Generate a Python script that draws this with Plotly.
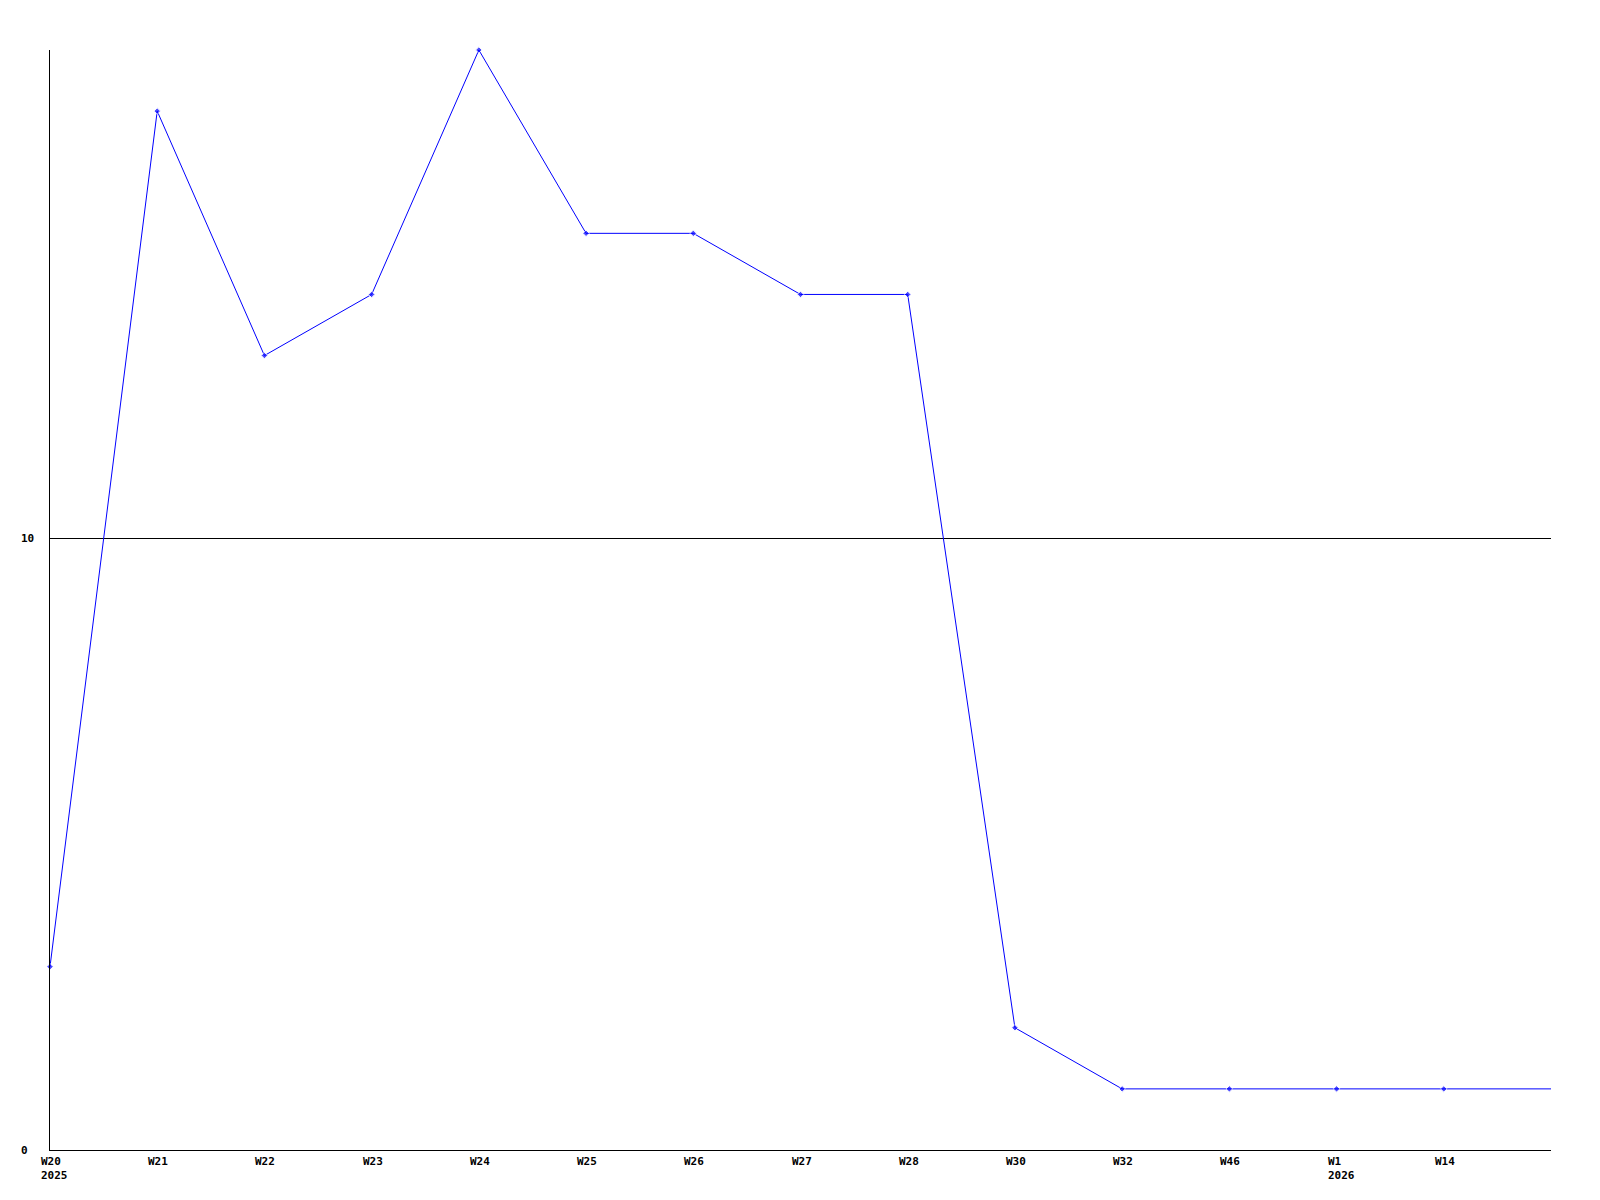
import plotly.graph_objects as go

weeks = ["W20", "W21", "W22", "W23", "W24", "W25", "W26", "W27", "W28", "W30", "W32", "W46", "W1", "W14", ""]
years = ["2025", "", "", "", "", "", "", "", "", "", "", "", "2026", "", ""]
values = [3, 17, 13, 14, 18, 15, 15, 14, 14, 2, 1, 1, 1, 1, 1]
y_ticks = [0, 10]

FONT = dict(family="DejaVu Sans Mono", size=11, color="black")

xs = list(range(len(values)))
sizes = [5] * (len(values) - 1) + [0]

fig = go.Figure()
fig.add_trace(go.Scatter(
    x=xs, y=values, mode="lines+markers",
    line=dict(color="#0000ff", width=1),
    marker=dict(symbol="diamond", size=sizes, color="#0000ff"),
    cliponaxis=False, showlegend=False, hoverinfo="skip",
))

annotations = []
for i, (w, yr) in enumerate(zip(weeks, years)):
    if not w:
        continue
    text = f"<b>{w}</b>" + (f"<br><b>{yr}</b>" if yr else "")
    annotations.append(dict(
        x=i, y=0, xref="x", yref="y", text=text, showarrow=False,
        xanchor="left", yanchor="top", align="left", xshift=-11, yshift=-3,
        font=FONT,
    ))
for t in y_ticks:
    annotations.append(dict(
        x=0, y=t, xref="paper", yref="y", text=f"<b>{t}</b>", showarrow=False,
        xanchor="left", yanchor="middle", align="left", xshift=-31,
        font=FONT,
    ))

fig.update_layout(
    width=1592, height=1192,
    margin=dict(l=42, r=49, t=42, b=50),
    paper_bgcolor="white", plot_bgcolor="white",
    annotations=annotations,
    xaxis=dict(range=[0, 14], showgrid=False, zeroline=False, showticklabels=False,
               ticks="", showline=True, linecolor="black", linewidth=1, fixedrange=True),
    yaxis=dict(range=[0, 18], tickvals=y_ticks, showticklabels=False, ticks="",
               showgrid=True, gridcolor="black", gridwidth=1, zeroline=False,
               showline=True, linecolor="black", linewidth=1, fixedrange=True),
)

fig.write_html("out.html")
